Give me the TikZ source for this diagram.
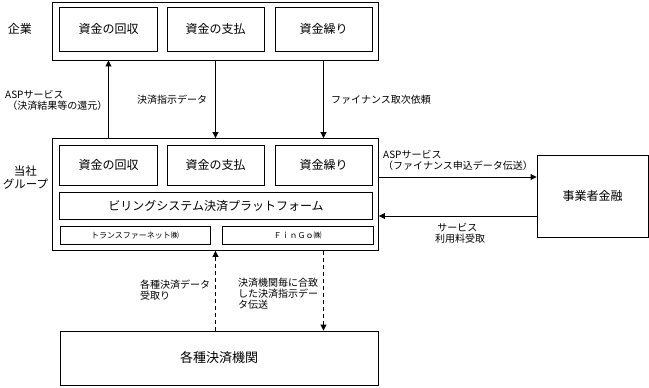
\documentclass[tikz,border=0pt]{standalone}
\usepackage{fontspec}
\setmainfont{Noto Sans CJK JP}
\usetikzlibrary{arrows.meta}
\begin{document}
\begin{tikzpicture}[x=1pt,y=-1pt,
  box/.style={draw,line width=0.9pt,inner sep=0pt,font=\fontsize{12}{14}\selectfont},
  lab/.style={inner sep=0pt,font=\fontsize{10}{11}\selectfont,align=left},
  arr/.style={line width=0.9pt,-{Triangle[length=6pt,width=6pt]}},
  darr/.style={arr,dash pattern=on 4pt off 3pt}]
\useasboundingbox (0,0) rectangle (649,388);
% top group
\node[box,minimum width=326pt,minimum height=58pt] (top) at (215.5,31) {};
\node[box,minimum width=98pt,minimum height=44pt] (t1) at (108.5,29) {資金の回収};
\node[box,minimum width=97pt,minimum height=44pt] (t2) at (215.5,29) {資金の支払};
\node[box,minimum width=97pt,minimum height=44pt] (t3) at (323.5,29) {資金繰り};
\node[inner sep=0pt,font=\fontsize{12}{14}\selectfont] (kigyo) at (20,29) {企業};
% middle group
\node[box,minimum width=326pt,minimum height=112pt] (mid) at (215.5,194.5) {};
\node[box,minimum width=98pt,minimum height=40pt] (m1) at (108.5,165) {資金の回収};
\node[box,minimum width=97pt,minimum height=40pt] (m2) at (215.5,165) {資金の支払};
\node[box,minimum width=97pt,minimum height=40pt] (m3) at (323.5,165) {資金繰り};
\node[box,minimum width=313pt,minimum height=27pt] (plat) at (216,205.5) {ビリングシステム決済プラットフォーム};
\node[box,minimum width=150pt,minimum height=18pt,font=\fontsize{8}{9}\selectfont] (tn) at (135,235) {トランスファーネット㈱};
\node[box,minimum width=151pt,minimum height=18pt,font=\fontsize{8}{9}\selectfont] (fg) at (297.5,235) {ＦｉｎＧｏ㈱};
\node[inner sep=0pt,font=\fontsize{11.5}{13}\selectfont,align=center] (tosha) at (25.5,178) {当社\\グループ};
% right box
\node[box,minimum width=111pt,minimum height=82pt] (fin) at (592.5,196) {事業者金融};
% bottom box
\node[box,minimum width=318pt,minimum height=54pt,font=\fontsize{13}{15}\selectfont] (kikan) at (219,358) {各種決済機関};
% coordinates
\coordinate (r1) at (0,177);
\coordinate (r2) at (0,216);
% arrows top
\draw[arr] (m1.north |- mid.north) -- (m1.north |- top.south);
\draw[arr] (m2.north |- top.south) -- (m2.north |- mid.north);
\draw[arr] (m3.north |- top.south) -- (m3.north |- mid.north);
% arrows right
\draw[arr] (mid.east |- r1) -- (fin.west |- r1);
\draw[arr] (fin.west |- r2) -- (mid.east |- r2);
% dashed arrows bottom
\draw[darr] (m2.south |- kikan.north) -- (m2.south |- mid.south);
\draw[darr] (m3.south |- mid.south) -- (m3.south |- kikan.north);
% labels
\node[lab,anchor=west] (l1) at (5,100) {ASPサービス\\\ （決済結果等の還元）};
\node[lab,anchor=west] (l2) at (137,100) {決済指示データ};
\node[lab,anchor=west] (l3) at (331,100) {ファイナンス取次依頼};
\node[lab,anchor=west] (l4) at (383,160.5) {ASPサービス\\（ファイナンス申込データ伝送）};
\node[lab,anchor=west] (l5) at (435,233) {\ サービス\\利用料受取};
\node[lab,anchor=west] (l6) at (140,290) {各種決済データ\\受取り};
\node[lab,anchor=west] (l7) at (238,294) {決済機関毎に合致\\した決済指示デー\\タ伝送};
\end{tikzpicture}
\end{document}
